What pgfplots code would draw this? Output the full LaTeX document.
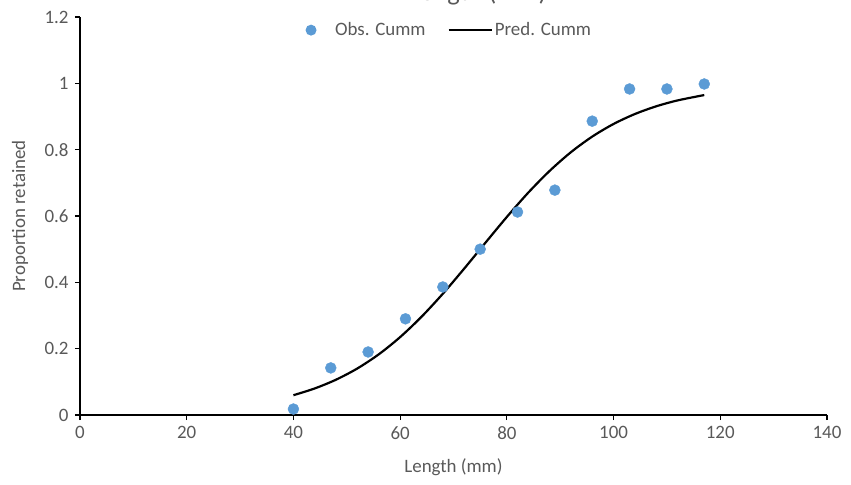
\documentclass[border=0pt]{standalone}
\usepackage{fontspec}
\setmainfont{Carlito}
\usepackage{pgfplots}
\pgfplotsset{compat=1.18}
\definecolor{obsblue}{HTML}{5B9BD5}
\definecolor{txt}{HTML}{595959}
\pgfplotsset{
  obslegend/.style={legend image code/.code={\path[draw=none] (0bp,0bp) -- (34bp,0bp); \fill[obsblue, draw=none] (12bp,0bp) circle (5.5bp);}},
  predlegend/.style={legend image code/.code={\draw[##1] (0bp,0bp) -- (43bp,0bp);}},
}
\begin{document}
\fontsize{19}{23}\selectfont
\begin{tikzpicture}
\begin{axis}[
  scale only axis, width=747bp, height=398bp,
  xmin=0, xmax=140, ymin=0, ymax=1.2,
  xtick={0,20,40,60,80,100,120,140},
  ytick={0,0.2,0.4,0.6,0.8,1,1.2},
  axis x line*=bottom, axis y line*=left,
  axis line style={line width=1.2bp, black},
  tick align=outside, major tick length=5bp,
  tick style={black, line width=1.2bp},
  ticklabel style={font=\fontsize{19}{23}\selectfont, text=txt},
  /pgf/number format/assume math mode=true,
  xlabel={Length (mm)}, ylabel={Proportion retained},
  label style={font=\fontsize{19}{23}\selectfont, text=txt},
  xlabel style={at={(axis description cs:0.5,-0.1307)}, anchor=center},
  ylabel style={at={(axis description cs:-0.0803,0.5)}, anchor=center},
  legend columns=2,
  legend style={at={(0.490,0.967)}, anchor=center, draw=none, fill=none,
    font=\fontsize{19}{23}\selectfont, text=txt,
    /tikz/every even column/.append style={column sep=20bp}},
  clip=false,
]
\addplot[only marks, mark=*, mark size=5.5bp, color=obsblue, obslegend]
  coordinates {
  (40,0.018) (47,0.142) (54,0.19) (61,0.29) (68,0.386) (75,0.50)
  (82,0.612) (89,0.678) (96,0.886) (103,0.983) (110,0.983) (117,0.998)
  };
\addlegendentry{Obs. Cumm}
\addplot[black, line width=2.2bp, smooth, predlegend]
  coordinates {
  (40,0.0597) (44,0.0801) (48,0.1066) (52,0.1405) (56,0.1830) (60,0.2349)
  (64,0.2961) (68,0.3656) (72,0.4413) (76,0.5197) (80,0.5972) (84,0.6702)
  (88,0.7357) (92,0.7923) (96,0.8394) (100,0.8775) (104,0.9075) (108,0.9308)
  (112,0.9485) (117,0.9647)
  };
\addlegendentry{Pred. Cumm}
\end{axis}
\node[anchor=base, text=txt, font=\fontsize{26.6}{32}\selectfont] at (398bp,414.5bp) {Length (mm)};
\pgfresetboundingbox
\useasboundingbox (-80bp,-70bp) rectangle (771bp,415bp);
\end{tikzpicture}
\end{document}
